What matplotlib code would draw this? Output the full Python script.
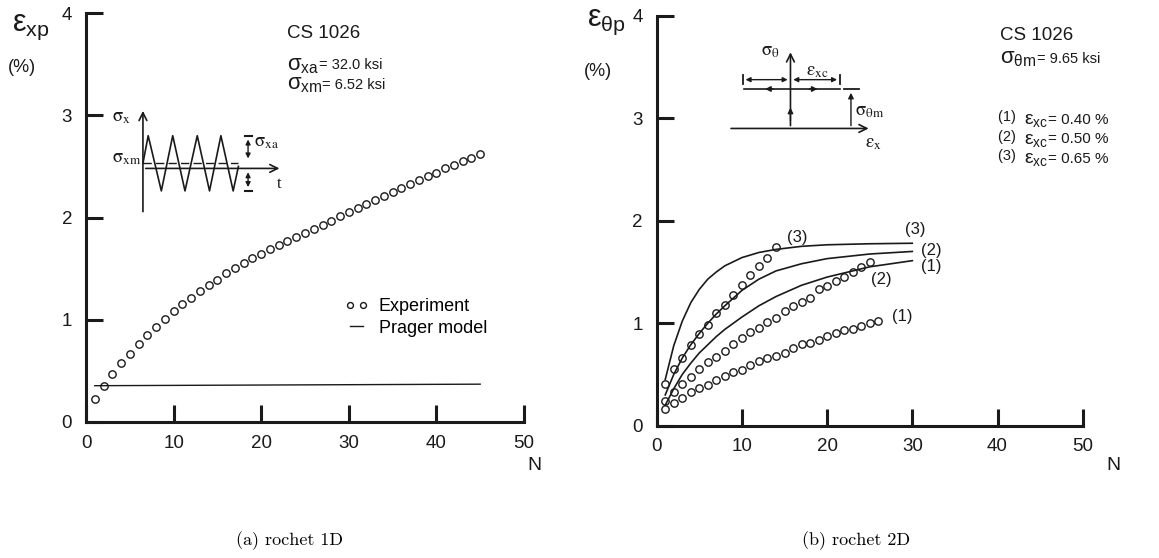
import numpy as np
import matplotlib
matplotlib.use("Agg")
import matplotlib.pyplot as plt

plt.rcParams['font.family'] = ['Liberation Sans', 'DejaVu Sans']
plt.rcParams['mathtext.fontset'] = 'custom'
plt.rcParams['mathtext.rm'] = 'Liberation Sans'
plt.rcParams['mathtext.it'] = 'Liberation Sans:italic'
plt.rcParams['mathtext.bf'] = 'Liberation Sans:bold'

INK = '#1a1a1a'

# ---- (a) 1D ratcheting ----
n_1d = list(range(1, 46))
exp_1d = [0.225, 0.355, 0.47, 0.575, 0.665, 0.76, 0.855, 0.93, 1.01, 1.09,
          1.15, 1.215, 1.28, 1.34, 1.39, 1.455, 1.505, 1.555, 1.60, 1.645,
          1.69, 1.73, 1.77, 1.81, 1.85, 1.89, 1.93, 1.97, 2.01, 2.05,
          2.09, 2.13, 2.17, 2.21, 2.25, 2.29, 2.33, 2.37, 2.405, 2.44,
          2.48, 2.515, 2.55, 2.585, 2.62]
prager_n = [1, 45]
prager_1d = [0.355, 0.37]

# ---- (b) 2D ratcheting ----
n_c1 = list(range(1, 27))
exp_c1 = [0.16, 0.225, 0.27, 0.33, 0.37, 0.40, 0.445, 0.485, 0.52, 0.545,
          0.59, 0.63, 0.665, 0.68, 0.705, 0.755, 0.795, 0.805, 0.84, 0.875,
          0.90, 0.93, 0.945, 0.975, 1.005, 1.026]
n_c2 = list(range(1, 26))
exp_c2 = [0.24, 0.33, 0.41, 0.48, 0.55, 0.62, 0.675, 0.73, 0.795, 0.86,
          0.91, 0.95, 1.01, 1.05, 1.12, 1.17, 1.205, 1.25, 1.33, 1.36,
          1.41, 1.455, 1.50, 1.55, 1.60]
n_c3 = list(range(1, 15))
exp_c3 = [0.41, 0.55, 0.66, 0.79, 0.89, 0.98, 1.10, 1.18, 1.28, 1.37,
          1.47, 1.56, 1.635, 1.74]

n_model = [1, 2, 3, 4, 5, 6, 7, 8, 10, 12, 14, 17, 20, 25, 30]
model_c1 = [0.20, 0.36, 0.50, 0.61, 0.71, 0.79, 0.87, 0.94, 1.06, 1.17, 1.26, 1.37, 1.45, 1.55, 1.61]
model_c2 = [0.30, 0.50, 0.66, 0.79, 0.90, 1.00, 1.09, 1.17, 1.32, 1.43, 1.51, 1.58, 1.63, 1.675, 1.70]
model_c3 = [0.45, 0.78, 1.02, 1.20, 1.33, 1.43, 1.50, 1.56, 1.64, 1.69, 1.72, 1.75, 1.765, 1.775, 1.78]

x_ticks = [0, 10, 20, 30, 40, 50]
y_ticks = [0, 1, 2, 3, 4]

W, H = 1159, 558
fig = plt.figure(figsize=(W / 100, H / 100), dpi=100)


def px_axes(x0, x1, y0, y1):
    return fig.add_axes([x0 / W, 1 - y0 / H, (x1 - x0) / W, (y0 - y1) / H])


def style(ax):
    ax.set_xlim(0, 50)
    ax.set_ylim(0, 4)
    ax.set_xticks(x_ticks)
    ax.set_yticks(y_ticks)
    for s in ('top', 'right'):
        ax.spines[s].set_visible(False)
    for s in ('left', 'bottom'):
        ax.spines[s].set_linewidth(2.2)
        ax.spines[s].set_color(INK)
    ax.tick_params(direction='in', length=12, width=2.2, color=INK,
                   labelsize=13.5, labelcolor=INK)
    ax.tick_params(axis='y', pad=10)
    ax.tick_params(axis='x', pad=9)


def sig_text(ax, x, y, sym, rest, big=16, small=10.5):
    t = ax.text(x, y, sym, fontsize=big, color=INK, va='baseline')
    ax.annotate(rest, xy=(1, 0.32), xycoords=t, fontsize=small, color=INK,
                va='baseline', ha='left')
    return t


arrow_open = dict(arrowstyle='->', lw=1.2, color=INK, mutation_scale=14)
arrow_fill = dict(arrowstyle='-|>', lw=1.0, color=INK, mutation_scale=8)
arrow_both = dict(arrowstyle='<|-|>', lw=1.0, color=INK, mutation_scale=7)
serif = dict(fontsize=13.5, math_fontfamily='stix', color=INK, va='center')

# ======================= left panel =======================
ax1 = px_axes(86, 524, 422, 13)
style(ax1)
ax1.plot(n_1d, exp_1d, 'o', ms=5.3, mfc='none', mec=INK, mew=1.0,
         label='Experiment', clip_on=False)
ax1.plot(prager_n, prager_1d, '-', lw=1.0, color=INK, label='Prager model')
ax1.legend(loc='upper left', bbox_to_anchor=(0.57, 0.325), frameon=False,
           numpoints=2, fontsize=13, handlelength=1.3, handletextpad=0.6,
           labelspacing=0.25, borderpad=0, markerscale=0.8)

ax1.text(22.9, 3.76, 'CS 1026', fontsize=13.5, color=INK)
sig_text(ax1, 22.9, 3.44, r'$\mathrm{σ}_{\rm xa}$', '= 32.0 ksi')
sig_text(ax1, 22.9, 3.25, r'$\mathrm{σ}_{\rm xm}$', '= 6.52 ksi')

# loading schematic (sawtooth stress history)
ax1.annotate('', xy=(6.5, 3.07), xytext=(6.5, 2.03), arrowprops=arrow_open)
ax1.annotate('', xy=(22.4, 2.48), xytext=(6.5, 2.48), arrowprops=arrow_open)
ax1.plot([6.5, 17.4], [2.53, 2.53], color=INK, lw=1.0, dashes=(6, 3))
saw_x = [6.5, 7.1, 8.6, 9.9, 11.3, 12.7, 14.1, 15.4, 16.8, 17.4]
saw_y = [2.53, 2.80, 2.26, 2.80, 2.26, 2.80, 2.26, 2.80, 2.26, 2.50]
ax1.plot(saw_x, saw_y, color=INK, lw=1.2)
ax1.plot([18.1, 18.9], [2.80, 2.80], color=INK, lw=1.5)
ax1.plot([18.1, 18.9], [2.26, 2.26], color=INK, lw=1.5)
ax1.annotate('', xy=(18.5, 2.79), xytext=(18.5, 2.55), arrowprops=arrow_both)
ax1.annotate('', xy=(18.5, 2.27), xytext=(18.5, 2.47), arrowprops=arrow_both)
ax1.text(4.1, 2.98, r'$\mathrm{σ}_{\rm x}$', ha='center', **serif)
ax1.text(6.3, 2.58, r'$\mathrm{σ}_{\rm xm}$', ha='right', **serif)
ax1.text(19.2, 2.73, r'$\mathrm{σ}_{\rm xa}$', ha='left', **serif)
ax1.text(22.0, 2.33, 't', fontsize=12, family='Liberation Serif',
         color=INK, ha='center', va='center')

# ======================= right panel =======================
ax2 = px_axes(656.7, 1082.7, 425.7, 15.7)
style(ax2)
for n, e in ((n_c1, exp_c1), (n_c2, exp_c2), (n_c3, exp_c3)):
    ax2.plot(n, e, 'o', ms=5.3, mfc='none', mec=INK, mew=1.0, clip_on=False)
for m in (model_c1, model_c2, model_c3):
    ax2.plot(n_model, m, '-', lw=1.2, color=INK)

for x, y, s in ((16.5, 1.84, '(3)'), (30.4, 1.91, '(3)'), (32.2, 1.71, '(2)'),
                (32.2, 1.55, '(1)'), (26.4, 1.43, '(2)'), (28.8, 1.07, '(1)')):
    ax2.text(x, y, s, fontsize=12, color=INK, ha='center', va='center')

ax2.text(40.3, 3.76, 'CS 1026', fontsize=13.5, color=INK)
sig_text(ax2, 40.3, 3.53, r'$\mathrm{σ}_{\rm \theta m}$', '= 9.65 ksi')
for y, k, v in ((2.97, '(1)', '= 0.40 %'), (2.78, '(2)', '= 0.50 %'),
                (2.59, '(3)', '= 0.65 %')):
    t = ax2.text(40.0, y, k + '  ', fontsize=10.5, color=INK, va='baseline')
    t2 = ax2.annotate(r'$\mathrm{ε}_{\rm xc}$', xy=(1, 0), xycoords=t,
                      fontsize=14, color=INK, va='baseline')
    ax2.annotate(v, xy=(1, 0.32), xycoords=t2, fontsize=11, color=INK,
                 va='baseline')

# biaxial loading schematic
ax2.annotate('', xy=(15.7, 3.67), xytext=(15.7, 2.90), arrowprops=arrow_open)
ax2.annotate('', xy=(15.7, 3.13), xytext=(15.7, 2.95), arrowprops=arrow_fill)
ax2.annotate('', xy=(25.2, 2.90), xytext=(8.4, 2.90), arrowprops=arrow_open)
ax2.annotate('', xy=(10.1, 3.376), xytext=(15.7, 3.376), arrowprops=arrow_both)
ax2.annotate('', xy=(21.5, 3.376), xytext=(15.7, 3.376), arrowprops=arrow_both)
ax2.plot([10.1, 10.1], [3.33, 3.42], color=INK, lw=1.3)
ax2.plot([21.5, 21.5], [3.33, 3.42], color=INK, lw=1.3)
ax2.plot([10.3, 21.5], [3.285, 3.285], color=INK, lw=1.2)
ax2.annotate('', xy=(12.4, 3.285), xytext=(14.0, 3.285), arrowprops=arrow_fill)
ax2.annotate('', xy=(19.2, 3.285), xytext=(17.6, 3.285), arrowprops=arrow_fill)
ax2.annotate('', xy=(22.8, 3.275), xytext=(22.8, 2.90), arrowprops=arrow_fill)
ax2.plot([22.0, 23.7], [3.285, 3.285], color=INK, lw=1.3)
ax2.text(13.4, 3.65, r'$\mathrm{σ}_{\rm θ}$', ha='center', **serif)
ax2.text(18.9, 3.46, r'$\mathrm{ε}_{\rm xc}$', ha='center', **serif)
ax2.text(23.3, 3.07, r'$\mathrm{σ}_{\rm θm}$', ha='left', **serif)
ax2.text(25.4, 2.75, r'$\mathrm{ε}_{\rm x}$', ha='center', **serif)

# axis titles
fig.text(12 / W, 1 - 27 / H, r'$\mathrm{ε}_{\rm xp}$', fontsize=22, color=INK, va='center')
fig.text(22 / W, 1 - 67 / H, '(%)', fontsize=13, color=INK, ha='center', va='center')
fig.text(587 / W, 1 - 22 / H, r'$\mathrm{ε}_{\rm \theta p}$', fontsize=22, color=INK, va='center')
fig.text(598 / W, 1 - 72 / H, '(%)', fontsize=13, color=INK, ha='center', va='center')
fig.text(534 / W, 1 - 466 / H, 'N', fontsize=14, color=INK, ha='center', va='center')
fig.text(1113 / W, 1 - 466 / H, 'N', fontsize=14, color=INK, ha='center', va='center')

# captions
fig.text(290 / W, 1 - 541 / H, '(a) rochet 1D', fontsize=13, family='cmr10',
         color='black', ha='center', va='center')
fig.text(856 / W, 1 - 541 / H, '(b) rochet 2D', fontsize=13, family='cmr10',
         color='black', ha='center', va='center')

fig.savefig('out.png', dpi=100)
